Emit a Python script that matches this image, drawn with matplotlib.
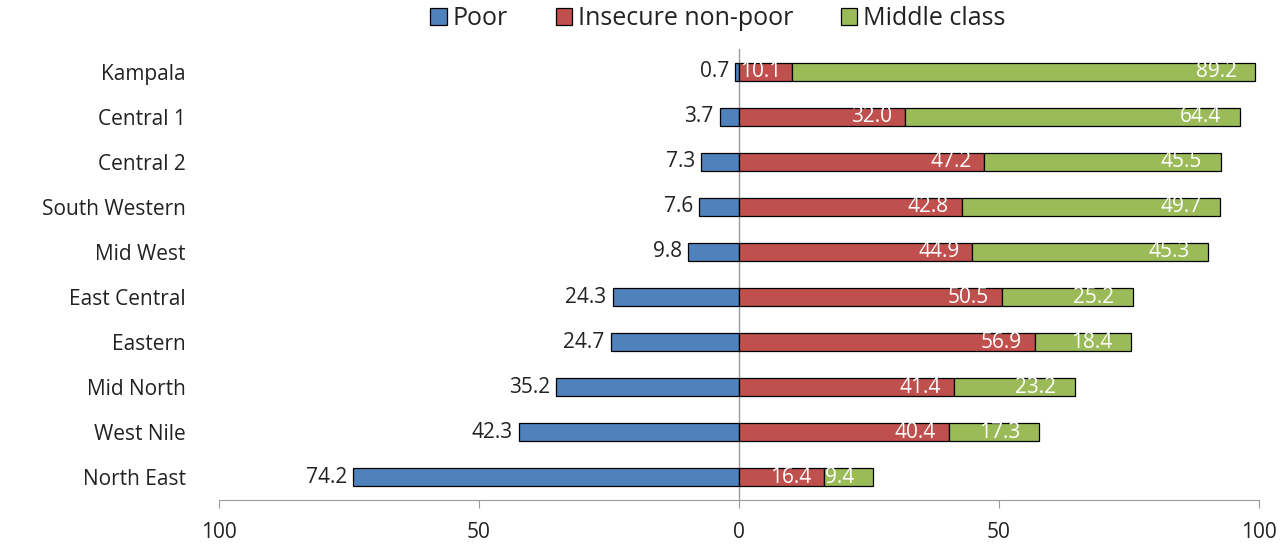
import matplotlib.pyplot as plt
import numpy as np

regions = ["Kampala", "Central 1", "Central 2", "South Western", "Mid West",
           "East Central", "Eastern", "Mid North", "West Nile", "North East"]
poor = [0.7, 3.7, 7.3, 7.6, 9.8, 24.3, 24.7, 35.2, 42.3, 74.2]
insecure = [10.1, 32.0, 47.2, 42.8, 44.9, 50.5, 56.9, 41.4, 40.4, 16.4]
middle = [89.2, 64.4, 45.5, 49.7, 45.3, 25.2, 18.4, 23.2, 17.3, 9.4]
xticks = [-100, -50, 0, 50, 100]
xticklabels = ["100", "50", "0", "50", "100"]

plt.rcParams['font.family'] = ['Open Sans', 'DejaVu Sans']

blue = "#4F81BD"
red = "#C0504D"
green = "#9BBB59"
fs = 15

fig = plt.figure(figsize=(12.87, 5.44), dpi=100)
ax = fig.add_axes([219/1287, 44/544, 1040/1287, 451/544])

y = np.arange(len(regions))[::-1]
poor = np.array(poor)
insecure = np.array(insecure)
middle = np.array(middle)
h = 0.4

ax.barh(y, -poor, height=h, color=blue, edgecolor="black", linewidth=0.9, label="Poor")
ax.barh(y, insecure, height=h, color=red, edgecolor="black", linewidth=0.9, label="Insecure non-poor")
ax.barh(y, middle, left=insecure, height=h, color=green, edgecolor="black", linewidth=0.9, label="Middle class")

for yi, p, ins, m in zip(y, poor, insecure, middle):
    ax.text(-p - 1.2, yi, f"{p:.1f}", ha="right", va="center", fontsize=fs, color="#222222")
    if ins < 12:
        # label wider than the bar: start it at the bar's base
        ax.text(0.2, yi, f"{ins:.1f}", ha="left", va="center", fontsize=fs, color="white")
    else:
        ax.text(ins - 2.5, yi, f"{ins:.1f}", ha="right", va="center", fontsize=fs, color="white")
    ax.text(ins + m - 3.6, yi, f"{m:.1f}", ha="right", va="center", fontsize=fs, color="white")

ax.axvline(0, color="#999999", linewidth=1, zorder=0.5)

ax.set_xlim(-100, 100)
ax.set_ylim(-0.5, len(regions) - 0.5)
ax.set_xticks(xticks)
ax.set_xticklabels(xticklabels, fontsize=fs, color="#222222")
ax.set_yticks(y)
ax.set_yticklabels(regions, fontsize=fs, color="#222222")
ax.tick_params(axis="y", length=0, pad=24)
ax.tick_params(axis="x", length=6, color="#999999", pad=10)

for s in ["top", "right", "left"]:
    ax.spines[s].set_visible(False)
ax.spines["bottom"].set_color("#999999")

ax.legend(loc="upper center", bbox_to_anchor=(0.5 - 21/1040, 1.145), ncol=3, frameon=False,
          fontsize=18, handlelength=0.65, handleheight=0.65, columnspacing=1.9,
          handletextpad=0.25, labelcolor="#222222")

fig.savefig("out.png", dpi=100)
